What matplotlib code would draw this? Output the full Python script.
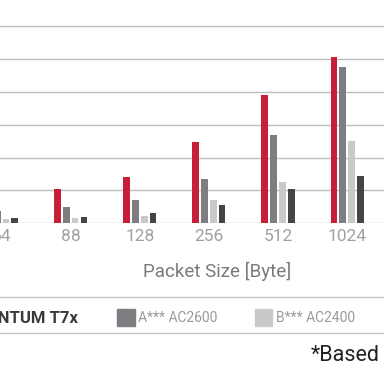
import matplotlib
matplotlib.use("Agg")
import matplotlib.pyplot as plt
from matplotlib.patches import Rectangle
from matplotlib.lines import Line2D
import numpy as np

plt.rcParams['font.family'] = ['Roboto', 'DejaVu Sans']

categories = ["64", "88", "128", "256", "512", "1024"]
series_names = ["QUANTUM T7x", "A*** AC2600", "B*** AC2400", "C*** AC2300"]
quantum = [0.75, 1.05, 1.41, 2.46, 3.91, 5.05]
a_vals = [0.38, 0.49, 0.71, 1.35, 2.67, 4.74]
b_vals = [0.12, 0.15, 0.23, 0.70, 1.26, 2.50]
c_vals = [0.16, 0.18, 0.31, 0.55, 1.05, 1.45]
colors = ["#c71f37", "#7e7e82", "#c9c9c9", "#454548"]

W = H = 384.0
fig = plt.figure(figsize=(3.84, 3.84), dpi=100)
base_px = 223.3
grid_px = 32.9
grp_px = 69.1
x0_px = 1.6

ax = fig.add_axes([0, (H - base_px) / H, 1, base_px / H])
ax.set_xlim(-x0_px / grp_px, (W - x0_px) / grp_px)
ax.set_ylim(0, base_px / grid_px)

x = np.arange(len(categories))
pitch = 8.8 / grp_px
width = 6.7 / grp_px
for k, vals in enumerate([quantum, a_vals, b_vals, c_vals]):
    ax.bar(x + (k - 1.5) * pitch, vals, width, color=colors[k], zorder=3)

ax.set_yticks(np.arange(0, 7))
ax.yaxis.grid(True, color="#bdbdbd", linewidth=1.0, zorder=0)
ax.set_yticklabels([])
ax.tick_params(axis='both', length=0)
for s in ax.spines.values():
    s.set_visible(False)
ax.set_xticks(x)
ax.set_xticklabels(categories, fontsize=12.5, color="#a0a0a0")
ax.tick_params(axis='x', pad=4)

def fx(px):
    return px / W

def fy(py):
    return 1 - py / H

fig.text(fx(217.2), fy(271), "Packet Size [Byte]", fontsize=13.5, color="#7a7a7a",
         ha='center', va='center')

for yy in (297.3, 332.5):
    fig.add_artist(Line2D([0, 1], [fy(yy), fy(yy)], transform=fig.transFigure,
                          color="#c8c8c8", linewidth=1.0))

# legend
legend_y = 317.5
sq = 17.5
sq_x = [-118.0, 117.3, 254.8, 392.0]
for k in range(4):
    fig.add_artist(Rectangle((fx(sq_x[k]), fy(legend_y + sq / 2)), sq / W, sq / H,
                             transform=fig.transFigure, color=colors[k]))
fig.text(fx(78), fy(legend_y), series_names[0], fontsize=12, color="#3a3a3a",
         fontweight='bold', ha='right', va='center')
for k in range(1, 3):
    fig.text(fx(sq_x[k] + sq + 3.5), fy(legend_y), series_names[k], fontsize=10,
             color="#9a9a9a", ha='left', va='center')

fig.text(fx(310.5), fy(355.5), "*Based", fontsize=15.5,
         color="#222222", ha='left', va='center')

fig.savefig("out.png", dpi=100)
